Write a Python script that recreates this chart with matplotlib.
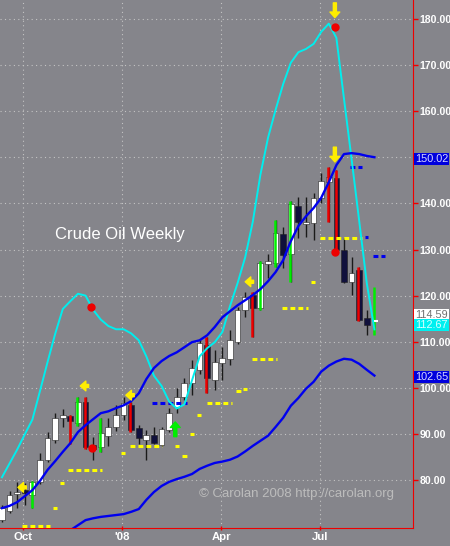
import numpy as np
import pandas as pd
import matplotlib
matplotlib.use('Agg')
import matplotlib.pyplot as plt

# weekly crude oil bars, first bar in week of 2007-09-12
start = pd.Timestamp('2007-09-12')
opens = [71.3, 73.3, 76.9, 77.8, 76.7, 79.6, 84.4, 88.7, 93.5, 93.9,
         92.4, 96.9, 87.5, 87.1, 89.6, 91.4, 94.0, 96.2, 91.3, 88.7,
         89.8, 87.7, 90.8, 95.8, 98.0, 101.0, 103.9, 109.3, 101.7, 105.4,
         106.2, 109.9, 116.8, 120.1, 117.3, 126.8, 127.1, 133.4, 129.0, 139.4,
         135.5, 135.7, 141.1, 144.6, 145.5, 129.9, 122.9, 125.6, 115.1, 113.6]
highs = [74.6, 77.6, 79.6, 79.3, 79.8, 85.9, 90.4, 94.5, 95.4, 94.2,
         98.1, 98.0, 89.4, 93.4, 93.4, 96.2, 98.0, 96.9, 91.9, 90.9,
         91.5, 91.5, 95.6, 100.0, 102.2, 106.0, 110.4, 111.0, 108.2, 108.8,
         112.6, 117.5, 120.7, 120.7, 127.5, 129.0, 136.4, 134.9, 140.5, 141.4,
         141.4, 142.2, 146.6, 147.9, 147.2, 132.5, 128.4, 126.2, 116.8, 121.9]
lows = [70.9, 72.8, 73.9, 74.6, 73.9, 79.1, 83.9, 88.0, 91.5, 87.9,
        91.8, 86.8, 84.4, 86.1, 87.3, 90.7, 93.0, 90.4, 87.9, 84.4,
        87.8, 87.3, 90.4, 94.5, 97.3, 98.4, 103.0, 98.9, 99.5, 101.7,
        105.0, 109.5, 115.3, 111.0, 116.9, 123.8, 126.2, 126.0, 122.9, 132.5,
        132.7, 132.0, 140.0, 135.9, 129.4, 122.7, 120.1, 114.5, 111.5, 111.5]
closes = [73.9, 76.7, 77.4, 77.2, 79.6, 84.4, 89.1, 93.5, 94.0, 92.8,
          97.0, 87.1, 86.8, 90.2, 91.4, 94.0, 96.6, 90.8, 89.1, 89.8,
          88.0, 91.0, 94.5, 98.0, 101.0, 104.3, 109.7, 102.1, 105.6, 106.4,
          110.4, 116.8, 119.6, 117.3, 127.1, 127.5, 133.6, 128.8, 139.8, 135.9,
          135.9, 141.1, 144.8, 145.7, 129.9, 122.9, 124.9, 114.7, 113.6, 114.59]
red_bars = [9, 11, 17, 27, 33, 43, 44, 47]
green_bars = [4, 10, 13, 34, 36, 38, 49]

cyan_line = [80.6, 83.6, 86.6, 89.9, 93.1, 99.3, 105.6, 111.7, 117.1, 118.8,
             120.4, 120.0, 116.9, 114.8, 113.4, 112.7, 112.7, 111.8, 110.3, 106.8,
             102.6, 100.4, 97.0, 95.5, 96.4, 101.6, 106.8, 108.6, 109.9, 112.1,
             117.7, 122.7, 128.3, 136.0, 146.2, 154.2, 160.3, 165.9, 170.5, 172.8,
             173.5, 174.6, 177.2, 179.0, 175.9, 162.7, 149.6, 136.2, 122.7, 112.67]
blue_upper = [73.9, 74.4, 75.2, 76.5, 77.8, 79.8, 82.2, 84.1, 86.1, 88.0,
              90.4, 91.9, 93.2, 94.5, 94.9, 95.6, 96.2, 97.1, 98.8, 101.9,
              104.3, 105.8, 106.9, 107.7, 108.8, 109.9, 110.3, 111.4, 113.2, 115.3,
              116.6, 117.9, 119.0, 120.1, 121.4, 123.1, 125.1, 127.7, 131.8, 135.1,
              137.2, 139.0, 141.2, 144.6, 148.3, 150.7, 150.9, 150.7, 150.3, 150.02]
blue_lower = [np.nan] * 9 + [
              69.1, 70.2, 71.3, 71.7, 72.0, 72.2, 72.4, 72.6, 73.1, 73.7,
              75.7, 77.4, 78.7, 79.6, 80.2, 80.7, 81.3, 82.4, 83.1, 83.7,
              84.0, 84.4, 85.1, 86.2, 87.4, 88.5, 89.6, 91.5, 93.5, 96.1,
              97.8, 99.8, 101.3, 103.5, 104.8, 105.7, 106.3, 106.1, 105.2, 103.9, 102.65]

# dashed levels: (from week, to week, price)
yellow_levels = [(2.6, 6.3, 70.1), (6.7, 7.3, 74.0), (7.6, 8.2, 79.3), (8.7, 13.2, 82.2),
                 (15.6, 16.2, 85.8), (16.8, 21.1, 87.3), (22.7, 23.3, 87.3),
                 (23.7, 24.3, 85.2), (24.7, 25.3, 90.0), (25.6, 26.2, 94.1),
                 (27.0, 30.3, 96.8), (30.8, 31.4, 99.4), (31.7, 32.3, 99.7),
                 (32.9, 36.2, 106.2), (36.8, 40.3, 117.3), (40.6, 41.2, 122.9),
                 (41.8, 47.4, 132.5)]
blue_levels = [(19.7, 24.3, 96.7), (45.8, 47.4, 147.9), (47.7, 48.2, 132.7), (48.8, 50.4, 128.6)]

red_dots_x = [11.7, 11.8, 43.8, 43.8]
red_dots_y = [117.5, 86.9, 178.3, 129.4]
left_arrows_x = [2.6, 10.8, 16.8, 32.5]
left_arrows_y = [78.4, 100.4, 98.4, 123.0]
down_arrows_x = [43.8, 43.8]
down_arrows_y = [180.3, 149.0]
up_arrows_x = [22.8]
up_arrows_y = [92.6]

month_ticks = ['2007-10-01', '2008-01-01', '2008-04-01', '2008-07-01']
month_labels = ['Oct', "'08", 'Apr', 'Jul']
price_ticks = list(range(80, 181, 10))
last_values = [(149.7, '150.02', '#0000dd', '#d8d8ff'),
               (115.8, '114.59', 'white', '#707070'),
               (113.6, '112.67', '#00f0f0', '#d8ffff'),
               (102.3, '102.65', '#0000dd', '#d8d8ff')]

plt.rcParams['font.family'] = ['Liberation Sans', 'DejaVu Sans']
bg = '#85858b'
fig = plt.figure(figsize=(4.5, 5.46), dpi=100, facecolor=bg)
ax = fig.add_axes([0, 18/546, 413/450, 528/546], facecolor=bg)

w = np.arange(len(opens))
o = np.array(opens); h = np.array(highs); l = np.array(lows); c = np.array(closes)

# wicks and bodies (last bar is the running week, drawn as a line)
ax.vlines(w[:-1], l[:-1], h[:-1], color='#1a1a1a', lw=1, zorder=3)
up = c >= o
body_lo = np.minimum(o, c)
body_h = np.maximum(np.abs(c - o), 0.45)
for i in range(len(w) - 1):
    ax.bar(w[i], body_h[i], bottom=body_lo[i], width=0.76,
           color='white' if up[i] else '#10103c', edgecolor='#202020', lw=0.4, zorder=4)
ax.vlines(w[red_bars] - 0.1, l[red_bars], h[red_bars], color='#ee0000', lw=1.8, zorder=5)
ax.vlines(w[green_bars] - 0.1, l[green_bars], h[green_bars], color='#00ee00', lw=1.8, zorder=5)
ax.hlines(c[-1], w[-1] - 0.1, w[-1] + 0.45, color='white', lw=1.5, zorder=5)

ax.plot(w, cyan_line, color='#00eeee', lw=1.4, zorder=6)
ax.plot(w, blue_upper, color='#0000ee', lw=1.7, zorder=6)
ax.plot(w, blue_lower, color='#0000ee', lw=1.7, zorder=6)

for x0, x1, y in yellow_levels:
    ax.plot([x0, x1], [y, y], color='#ffff00', lw=2.2, ls=(0, (1.6, 1.0)),
            solid_capstyle='butt', dash_capstyle='butt', zorder=5)
for x0, x1, y in blue_levels:
    ax.plot([x0, x1], [y, y], color='#0000ee', lw=2.2, ls=(0, (1.6, 1.0)),
            dash_capstyle='butt', zorder=5)

ax.plot(red_dots_x, red_dots_y, 'o', color='#ee0000', ms=5, zorder=7)
arrow_kw = dict(width=2.2, headwidth=7, headlength=4, shrink=0)
for x, y in zip(left_arrows_x, left_arrows_y):
    ax.annotate('', xy=(x - 0.5, y), xytext=(x + 0.6, y), zorder=7,
                arrowprops=dict(facecolor='#ffee00', edgecolor='#ffee00', **arrow_kw))
for x, y in zip(down_arrows_x, down_arrows_y):
    ax.annotate('', xy=(x, y), xytext=(x, y + 3.2), zorder=7,
                arrowprops=dict(facecolor='#ffee00', edgecolor='#ffee00', **arrow_kw))
for x, y in zip(up_arrows_x, up_arrows_y):
    ax.annotate('', xy=(x, y), xytext=(x, y - 3.2), zorder=7,
                arrowprops=dict(facecolor='#00ee00', edgecolor='#00ee00', **arrow_kw))

ax.set_xlim(-0.26, 54.08)
ax.set_ylim(69.59, 184.12)
tick_pos = [(pd.Timestamp(d) - start).days / 7 for d in month_ticks]
ax.set_xticks(tick_pos)
ax.set_xticklabels(month_labels)
ax.yaxis.tick_right()
ax.set_yticks(price_ticks)
# 150.00 sits under the 150.02 marker box in the original
ax.set_yticklabels(['' if v == 150 else f'{v:.2f}' for v in price_ticks])
ax.tick_params(colors='#ee0000', labelcolor='white', length=3.5, width=1)
ax.tick_params(axis='x', direction='inout', pad=1, labelsize=8.2)
ax.tick_params(axis='y', pad=1, labelsize=7.6)
for t in ax.get_xticklabels() + ax.get_yticklabels():
    t.set_fontweight('bold')
ax.grid(True, color='#c4c4c4', ls=(0, (1, 3)), lw=0.8)
ax.set_axisbelow(True)
for s in ['left', 'top']:
    ax.spines[s].set_visible(False)
for s in ['right', 'bottom']:
    ax.spines[s].set_color('#ee0000')

for y, txt, fc, tc in last_values:
    ax.text(1.005, y, txt, transform=ax.get_yaxis_transform(), va='center', ha='left',
            fontsize=7.8, color=tc, zorder=10, clip_on=False,
            bbox=dict(boxstyle='square,pad=0.1', fc=fc, ec='none'))

ax.text(0.29, 0.555, 'Crude Oil Weekly', transform=ax.transAxes, ha='center',
        va='center', fontsize=12, color='white')
ax.text(0.717, 0.064, '\u00a9 Carolan 2008 http://carolan.org', transform=ax.transAxes,
        ha='center', va='center', fontsize=9.5, color='#bcbcbc', zorder=8)

fig.savefig('out.png', dpi=100, facecolor=bg)
